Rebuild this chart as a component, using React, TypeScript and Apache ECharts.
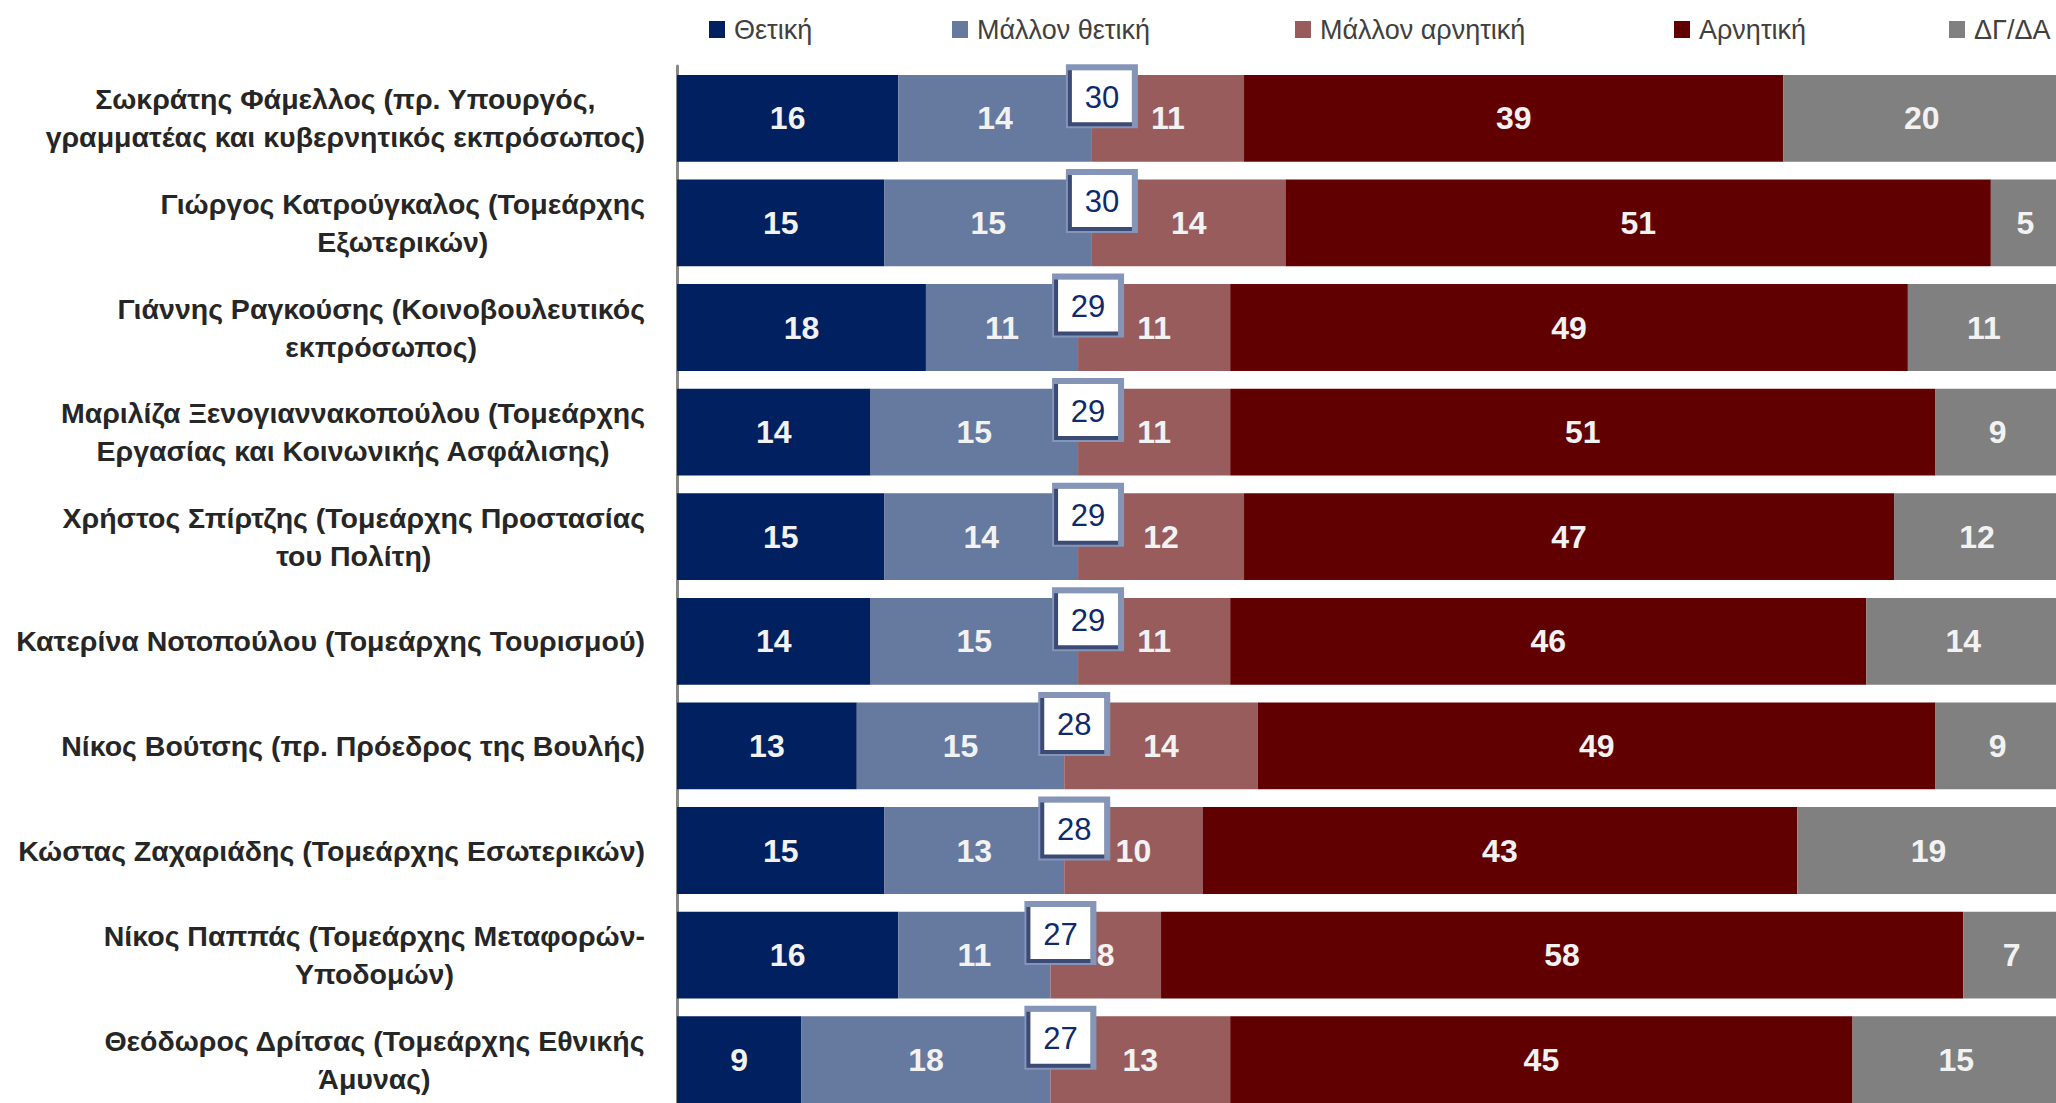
import React, { useEffect, useRef } from "react";
import * as echarts from "echarts";

const categories = [
  "Σωκράτης Φάμελλος (πρ. Υπουργός,\nγραμματέας και κυβερνητικός εκπρόσωπος)",
  "Γιώργος Κατρούγκαλος (Τομεάρχης\nΕξωτερικών)",
  "Γιάννης Ραγκούσης (Κοινοβουλευτικός\nεκπρόσωπος)",
  "Μαριλίζα Ξενογιαννακοπούλου (Τομεάρχης\nΕργασίας και Κοινωνικής Ασφάλισης)",
  "Χρήστος Σπίρτζης (Τομεάρχης Προστασίας\nτου Πολίτη)",
  "Κατερίνα Νοτοπούλου (Τομεάρχης Τουρισμού)",
  "Νίκος Βούτσης (πρ. Πρόεδρος της Βουλής)",
  "Κώστας Ζαχαριάδης (Τομεάρχης Εσωτερικών)",
  "Νίκος Παππάς (Τομεάρχης Μεταφορών-\nΥποδομών)",
  "Θεόδωρος Δρίτσας (Τομεάρχης Εθνικής\nΆμυνας)",
];

const seriesNames = ["Θετική", "Μάλλον θετική", "Μάλλον αρνητική", "Αρνητική", "ΔΓ/ΔΑ"];
const positive = [16, 15, 18, 14, 15, 14, 13, 15, 16, 9];
const ratherPositive = [14, 15, 11, 15, 14, 15, 15, 13, 11, 18];
const ratherNegative = [11, 14, 11, 11, 12, 11, 14, 10, 8, 13];
const negative = [39, 51, 49, 51, 47, 46, 49, 43, 58, 45];
const dkna = [20, 5, 11, 9, 12, 14, 9, 19, 7, 15];
const positiveTotals = [30, 30, 29, 29, 29, 29, 28, 28, 27, 27];

const colors = ["#002060", "#66799f", "#985c5c", "#600000", "#808080"];
const legendLefts = [709, 952, 1295, 1674, 1949];

const SANS = "'Liberation Sans', Arial, sans-serif";

export default function App() {
  const ref = useRef<HTMLDivElement>(null);
  useEffect(() => {
    if (!ref.current) return;
    const chart = echarts.init(ref.current, null, { renderer: "svg" });
    const values = [positive, ratherPositive, ratherNegative, negative, dkna];
    const barSeries = seriesNames.map((name, i) => ({
      name,
      type: "bar",
      stack: "total",
      barCategoryGap: "17%",
      data: values[i],
      itemStyle: { color: colors[i] },
      label: {
        show: true,
        position: "inside",
        color: "#f2f2f2",
        fontFamily: SANS,
        fontWeight: "bold",
        fontSize: 32,
      },
      emphasis: { disabled: true },
    }));
    const boxSeries = {
      type: "custom",
      z: 10,
      data: positiveTotals.map((v, i) => [v, i]),
      encode: { x: 0, y: 1 },
      renderItem: (params: any, api: any) => {
        const p = api.coord([api.value(0), api.value(1)]);
        const cx = p[0] + 10;
        const top = p[1] - 54;
        return {
          type: "group",
          children: [
            { type: "rect", shape: { x: cx - 36, y: top, width: 72, height: 64 }, style: { fill: "#8595b8" } },
            { type: "rect", shape: { x: cx - 34, y: top + 6, width: 64, height: 56 }, style: { fill: "#3c4a76" } },
            { type: "rect", shape: { x: cx - 30, y: top + 6, width: 60, height: 52 }, style: { fill: "#ffffff" } },
            {
              type: "text",
              style: {
                text: String(api.value(0)),
                x: cx,
                y: top + 33,
                align: "center",
                verticalAlign: "middle",
                fontSize: 31,
                fontFamily: SANS,
                fill: "#0f2a6b",
              },
            },
          ],
        };
      },
    };
    chart.setOption({
      animation: false,
      legend: seriesNames.map((name, i) => ({
        data: [name],
        left: legendLefts[i],
        top: 16,
        padding: 0,
        itemWidth: 16,
        itemHeight: 17,
        icon: "rect",
        selectedMode: false,
        textStyle: {
          fontSize: 27,
          color: "#404040",
          fontFamily: SANS,
          padding: [0, 0, 0, 4],
        },
      })),
      grid: { left: 677, right: -4, top: 66, height: 1046, outerBoundsMode: "none", containLabel: false },
      xAxis: { type: "value", min: 0, max: 100, show: false },
      yAxis: {
        type: "category",
        data: categories,
        inverse: true,
        axisLine: { show: true, lineStyle: { color: "#888888", width: 3 } },
        axisTick: { show: false },
        axisLabel: {
          margin: 32,
          align: "right",
          lineHeight: 38,
          color: "#262626",
          fontFamily: SANS,
          fontWeight: "bold",
          fontSize: 28.5,
          formatter: (v: string) => v.split("\n").map((l) => `{c|${l}}`).join("\n"),
          rich: {
            c: {
              align: "center",
              lineHeight: 38,
              color: "#262626",
              fontFamily: SANS,
              fontWeight: "bold",
              fontSize: 28.5,
            },
          },
        },
      },
      series: [...barSeries, boxSeries],
    });
    return () => chart.dispose();
  }, []);
  return (
    <div
      ref={ref}
      style={{ position: "absolute", left: 0, top: 0, width: 2056, height: 1103 }}
    />
  );
}
